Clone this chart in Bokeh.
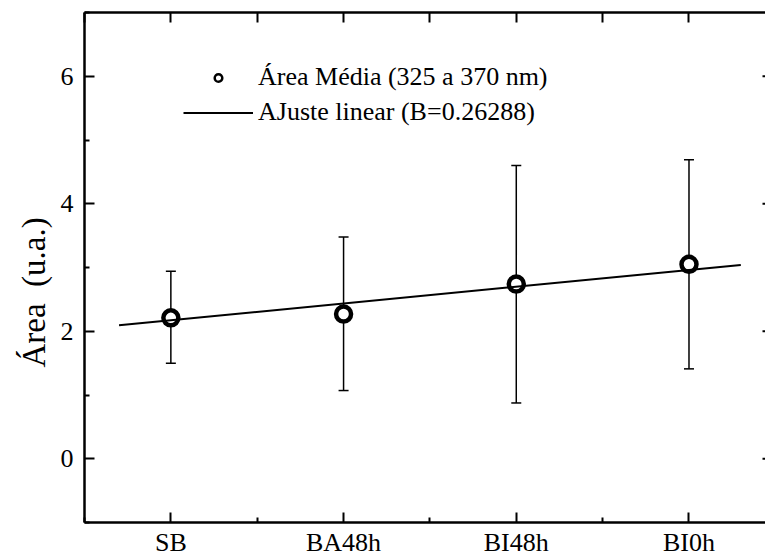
import numpy as np
from bokeh.plotting import figure
from bokeh.models import (ColumnDataSource, Whisker, TeeHead, FixedTicker, LinearAxis,
                          Legend, LegendItem, Range1d, Title)
from bokeh.embed import file_html
from bokeh.resources import INLINE

# ---- data ----
categories = ["SB", "BA48h", "BI48h", "BI0h"]
positions = [1, 2, 3, 4]
area_mean = [2.21, 2.27, 2.74, 3.05]
err_upper = [2.94, 3.48, 4.60, 4.69]
err_lower = [1.50, 1.07, 0.875, 1.41]
fit_slope = 0.26288
fit_intercept = 1.91
fit_x_extent = [0.7, 4.3]
y_major = [0, 2, 4, 6]
y_minor = [-1, 1, 3, 5, 7]
x_minor = [0.5, 1.5, 2.5, 3.5, 4.5]
x_start, x_end = 0.5, 4.443
y_start, y_end = -1, 7

fit_y = [fit_intercept + fit_slope * x for x in fit_x_extent]

FONT = "Liberation Serif"
W, H = 765, 559

p = figure(width=W, height=H, output_backend="svg", toolbar_location=None,
           x_range=Range1d(x_start, x_end), y_range=Range1d(y_start, y_end),
           min_border_left=84, min_border_right=0, min_border_top=12, min_border_bottom=34,
           x_axis_location=None, y_axis_location=None)
p.outline_line_color = None
p.background_fill_color = "white"
p.border_fill_color = "white"
p.grid.visible = False

xticker = FixedTicker(ticks=positions, minor_ticks=x_minor)
yticker = FixedTicker(ticks=y_major, minor_ticks=y_minor)


def style(ax):
    ax.axis_line_width = 2.5
    ax.axis_line_color = "black"
    ax.major_tick_line_width = 2
    ax.minor_tick_line_width = 2
    ax.major_tick_in = 10
    ax.major_tick_out = 0
    ax.minor_tick_in = 5
    ax.minor_tick_out = 0
    ax.major_label_text_font = FONT
    ax.major_label_text_font_size = "26px"
    ax.major_label_text_color = "black"


xb = LinearAxis(ticker=xticker, major_label_overrides={pos: c for pos, c in zip(positions, categories)})
style(xb)
xb.major_label_standoff = 5
p.add_layout(xb, "below")

# top frame line with inward ticks of equal length; its labels are not drawn
top_ticks = sorted(positions + x_minor)
xt = LinearAxis(ticker=FixedTicker(ticks=top_ticks, minor_ticks=[]))
style(xt)
xt.major_label_text_color = None
xt.major_label_text_font_size = "1px"
xt.major_label_standoff = 0
p.add_layout(xt, "above")

yl = LinearAxis(ticker=yticker)
style(yl)
yl.major_label_standoff = 11
p.add_layout(yl, "left")

# y-axis title, placed like the reference (slightly below the frame centre)
ytitle = Title(text="Área\u00a0 (u.a.)", align="left", offset=155, vertical_align="middle",
               text_font=FONT, text_font_size="33px", text_font_style="normal",
               text_color="black", standoff=10)
p.add_layout(ytitle, "left")

# stubs of right-hand ticks at the frame edge
p.ray(x=[x_end] * len(y_major), y=y_major, length=3, angle=np.pi,
      length_units="screen", line_width=2, line_color="black")

src = ColumnDataSource(dict(x=positions, y=area_mean, upper=err_upper, lower=err_lower))
w = Whisker(base="x", upper="upper", lower="lower", source=src, dimension="height",
            line_width=1.5, line_color="black",
            upper_head=TeeHead(size=10, line_width=1.5, line_color="black"),
            lower_head=TeeHead(size=10, line_width=1.5, line_color="black"))
w.level = "underlay"
p.add_layout(w)

pts = p.scatter("x", "y", source=src, size=15, marker="circle", fill_color="white",
                line_color="black", line_width=4.5)
fit_r = p.line(fit_x_extent, fit_y, line_color="black", line_width=2)

# legend-only marker (thinner, smaller than plotted points); not drawn in the plot area
leg_pt = p.scatter([np.nan], [np.nan], size=8, marker="circle", fill_color="white",
                   line_color="black", line_width=2.5)

legend = Legend(items=[LegendItem(label="Área Média (325 a 370 nm)", renderers=[leg_pt]),
                       LegendItem(label="AJuste linear (B=0.26288)", renderers=[fit_r])],
                location=(99, 395), glyph_width=70, glyph_height=19, label_standoff=5,
                padding=0, margin=0, spacing=5, border_line_color=None,
                background_fill_alpha=0, label_text_font=FONT,
                label_text_font_size="26px", label_height=30, label_text_color="black")
p.add_layout(legend)

open("out.html", "w").write(file_html(p, INLINE))
